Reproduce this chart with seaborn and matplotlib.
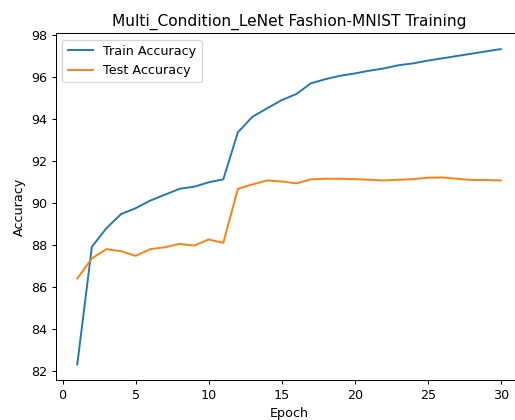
import matplotlib
matplotlib.use("Agg")
import matplotlib.pyplot as plt
import seaborn as sns
import pandas as pd

epochs = list(range(1, 31))
train_acc = [82.32, 87.92, 88.81, 89.48, 89.76, 90.12, 90.40, 90.68, 90.78, 90.99,
             91.13, 93.37, 94.11, 94.51, 94.90, 95.19, 95.70, 95.90, 96.06, 96.17,
             96.30, 96.41, 96.56, 96.65, 96.78, 96.89, 97.00, 97.11, 97.22, 97.33]
test_acc = [86.41, 87.37, 87.81, 87.71, 87.49, 87.81, 87.90, 88.06, 87.98, 88.27,
            88.11, 90.68, 90.89, 91.08, 91.03, 90.94, 91.13, 91.16, 91.16, 91.14,
            91.11, 91.08, 91.11, 91.14, 91.21, 91.22, 91.16, 91.10, 91.10, 91.08]
title = "Multi_Condition_LeNet Fashion-MNIST Training"

df = pd.DataFrame({
    "Epoch": epochs * 2,
    "Accuracy": train_acc + test_acc,
    "Series": ["Train Accuracy"] * len(epochs) + ["Test Accuracy"] * len(epochs),
})

W, H, DPI = 515, 420, 92
fig = plt.figure(figsize=(W / DPI, H / DPI), dpi=DPI)
ax = fig.add_axes([56.1 / W, 1 - 380.3 / H, (521.9 - 56.1) / W, (380.3 - 33.3) / H])

sns.lineplot(data=df, x="Epoch", y="Accuracy", hue="Series",
             palette=["#1f77b4", "#ff7f0e"], ax=ax, linewidth=1.5)
ax.legend(loc="upper left")
ax.set_title(title)
ax.set_xlabel("Epoch")
ax.set_ylabel("Accuracy")

fig.savefig("out.png", dpi=DPI)
